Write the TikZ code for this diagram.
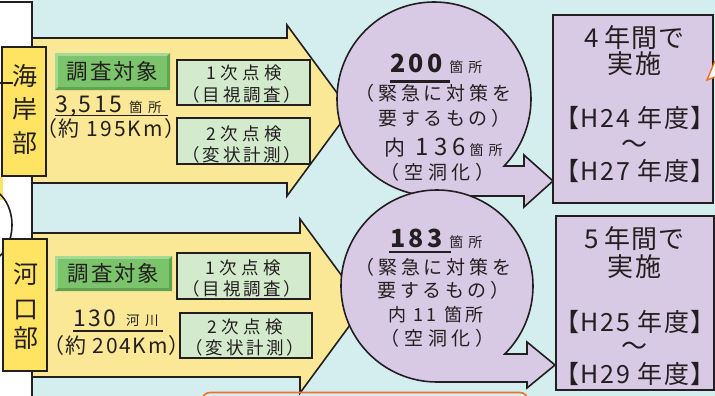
\documentclass[tikz,border=0pt]{standalone}
\usepackage{fontspec}
\setmainfont{Noto Sans CJK JP}
\definecolor{bgc}{RGB}{212,238,239}
\definecolor{ink}{RGB}{35,31,32}
\definecolor{yarrow}{RGB}{251,232,150}
\definecolor{ylab}{RGB}{255,228,100}
\definecolor{grn}{RGB}{124,196,108}
\definecolor{grnlt}{RGB}{165,218,150}
\definecolor{grndk}{RGB}{95,165,80}
\definecolor{lgreen}{RGB}{212,234,205}
\definecolor{lav}{RGB}{216,202,228}
\definecolor{orng}{RGB}{240,112,40}
\newcommand{\fz}[2]{\fontsize{#1}{#2}\selectfont}
\newcommand{\LS}[2]{{\addfontfeature{LetterSpace=#1}#2\hspace{-\dimexpr #1\fontdimen6\font/100\relax}}}
\newcommand{\PL}[1]{{\addfontfeature{RawFeature=+palt}#1}}
\begin{document}
\begin{tikzpicture}[x=1pt,y=-1pt,line join=miter,
  bd/.style={draw=ink,line width=1.6pt},
  txt/.style={inner sep=0pt,text=ink,anchor=base},
  lgbox/.style={bd,fill=lgreen,inner sep=0pt},
  ybox/.style={bd,fill=ylab,inner sep=0pt},
  rbox/.style={bd,fill=lav,inner sep=0pt},
  bubble/.style={bd,fill=lav},
  uline/.style={draw=ink,line width=1.5pt}]
\useasboundingbox (0,0) rectangle (715,396);
\fill[bgc] (0,0) rectangle (715,396);
% left white strip
\fill[white] (0,0) rectangle (32,396);
\fill[ylab] (0,177) rectangle (2.5,200);
\draw[bd] (-15,225) ellipse [x radius=27, y radius=37];
\draw[bd] (0,2) -- (32,2) -- (32,396);
% yellow arrows
\path[bd,fill=yarrow] (32,38) -- (287,38) -- (287,25) -- (350,110.5) -- (287,196) -- (287,183) -- (32,183) -- cycle;
\path[bd,fill=yarrow] (32,233) -- (300,233) -- (300,219) -- (364,306) -- (300,393) -- (300,377) -- (32,377) -- cycle;
% orange box at bottom
\draw[orng,line width=1.6pt,rounded corners=8pt] (202,430) -- (202,392.5) -- (528,392.5) -- (528,430);
% side labels
\node[ybox,minimum width=44pt,minimum height=129pt] (kaiganbox) at (24,111.5) {};
\node[txt,font=\fz{25}{25}] (kai1) at (25,85) {海};
\node[txt,font=\fz{25}{25}] (kai2) at (25,118) {岸};
\node[txt,font=\fz{25}{25}] (kai3) at (25,152) {部};
\coordinate (lk) at (0,83);
\coordinate (lk2) at (13,83);
\draw[bd] (lk) -- (lk2);
\node[ybox,minimum width=44pt,minimum height=132pt] (kakobox) at (25,305) {};
\node[txt,font=\fz{25}{25}] (kak1) at (26,283) {河};
\node[txt,font=\fz{25}{25}] (kak2) at (26,318) {口};
\node[txt,font=\fz{25}{25}] (kak3) at (26,347) {部};
% green labels
\fill[grnlt] (55,53) rectangle (170,90);
\fill[grndk] (170,53) -- (170,90) -- (55,90) -- (58,87) -- (167,87) -- (167,56) -- cycle;
\fill[grn] (58,56) rectangle (167,87);
\node[txt,font=\fz{21.5}{21.5}] (chosa1) at (112.5,80) {\LS{9}{調査対象}};
\fill[grnlt] (55,256) rectangle (172,291);
\fill[grndk] (172,256) -- (172,291) -- (55,291) -- (58,288) -- (169,288) -- (169,259) -- cycle;
\fill[grn] (58,259) rectangle (169,288);
\node[txt,font=\fz{21.5}{21.5}] (chosa2) at (113.5,281.5) {\LS{9}{調査対象}};
% counts
\node[txt,anchor=base west,font=\fz{23}{23}] (n3515) at (55,112) {\LS{10}{3,515}};
\node[txt,anchor=base west,font=\fz{13.5}{13.5}] (kasho1) at (129,112) {\LS{40}{箇所}};
\draw[uline] (55,115.5) -- (168,115.5);
\node[txt,font=\fz{21}{21}] (km1) at (111,136.5) {\PL{\LS{10}{（約 195Km）}}};
\node[txt,anchor=base west,font=\fz{23}{23}] (n130) at (73,326) {\LS{10}{130}};
\node[txt,anchor=base west,font=\fz{13.5}{13.5}] (kasen) at (126,325) {\LS{40}{河川}};
\draw[uline] (73,331) -- (163,331);
\node[txt,font=\fz{21}{21}] (km2) at (116.5,353) {\PL{\LS{8}{（約 204Km）}}};
% inspection boxes
\node[lgbox,minimum width=133pt,minimum height=45pt] (b1a) at (243.5,82.5) {};
\node[txt,font=\fz{17.5}{17.5}] (b1a1) at (244,80) {\LS{25}{1次点検}};
\node[txt,font=\fz{17.5}{17.5}] (b1a2) at (242,101) {\PL{\LS{17}{（目視調査）}}};
\node[lgbox,minimum width=133pt,minimum height=46pt] (b1b) at (243.5,141) {};
\node[txt,font=\fz{17.5}{17.5}] (b1b1) at (244,140) {\LS{25}{2次点検}};
\node[txt,font=\fz{17.5}{17.5}] (b1b2) at (242,161) {\PL{\LS{17}{（変状計測）}}};
\node[lgbox,minimum width=133pt,minimum height=46pt] (b2a) at (243.5,276) {};
\node[txt,font=\fz{17.5}{17.5}] (b2a1) at (243,274) {\LS{25}{1次点検}};
\node[txt,font=\fz{17.5}{17.5}] (b2a2) at (242,295.5) {\PL{\LS{17}{（目視調査）}}};
\node[lgbox,minimum width=132pt,minimum height=45pt] (b2b) at (246,335.5) {};
\node[txt,font=\fz{17.5}{17.5}] (b2b1) at (245,333) {\LS{25}{2次点検}};
\node[txt,font=\fz{17.5}{17.5}] (b2b2) at (245,354) {\PL{\LS{17}{（変状計測）}}};
% bubbles
\path[bubble] (434,196) arc[start angle=90, end angle=403.7, radius=97] -- (524,166) -- (524,155) -- (553,181) -- (524,207) -- (524,196) -- cycle;
\node[txt] (c1a) at (436.5,73) {{\fz{25}{25}\bfseries\LS{12}{200}}\hspace{10pt}{\fz{14}{14}\LS{35}{箇所}}};
\draw[ink,line width=2.6pt] (390,81.5) -- (450,81.5);
\node[txt,font=\fz{19}{19}] (c1b) at (433.5,100.5) {\LS{20}{（緊急に対策を}};
\node[txt,font=\fz{19}{19}] (c1c) at (444.5,125.5) {\LS{18}{要するもの）}};
\node[txt] (c1d) at (443.5,155) {{\fz{21}{21}内}\hspace{10pt}{\fz{24}{24}\LS{22}{136}}\hspace{9pt}{\fz{14}{14}\LS{35}{箇所}}};
\node[txt,font=\fz{19}{19}] (c1e) at (437.5,179) {\LS{24}{（空洞化）}};
\path[bubble] (437,382) arc[start angle=90, end angle=405.1, radius=96] -- (527,354) -- (527,342) -- (555,365) -- (527,388) -- (527,382) -- cycle;
\node[txt] (c2a) at (436.5,247) {{\fz{25}{25}\bfseries\LS{12}{183}}\hspace{10pt}{\fz{14}{14}\LS{35}{箇所}}};
\draw[ink,line width=2.6pt] (389,252) -- (451,252);
\node[txt,font=\fz{19}{19}] (c2b) at (433.5,274) {\LS{20}{（緊急に対策を}};
\node[txt,font=\fz{19}{19}] (c2c) at (443.5,297.5) {\LS{18}{要するもの）}};
\node[txt,font=\fz{18}{18}] (c2d) at (436,321.3) {\LS{18}{内 11 箇所}};
\node[txt,font=\fz{19}{19}] (c2e) at (437.5,345) {\LS{24}{（空洞化）}};
% right boxes
\node[rbox,minimum width=160pt,minimum height=188pt] (r1) at (633,109) {};
\node[txt,font=\fz{26}{26}] (r1a) at (634.5,48) {\LS{4}{4\hspace{6pt}年間で}};
\node[txt,font=\fz{26}{26}] (r1b) at (634.5,74) {\LS{6}{実施}};
\node[txt,font=\fz{25}{25}] (r1c) at (635,127) {\PL{\LS{7}{【H24 年度】}}};
\node[txt,font=\fz{26}{26}] (r1d) at (634,153) {～};
\node[txt,font=\fz{25}{25}] (r1e) at (635,180.5) {\PL{\LS{7}{【H27 年度】}}};
\node[rbox,minimum width=158pt,minimum height=174pt] (r2) at (635,303) {};
\node[txt,font=\fz{26}{26}] (r2a) at (634.5,248) {\LS{4}{5\hspace{6pt}年間で}};
\node[txt,font=\fz{26}{26}] (r2b) at (634.5,276.5) {\LS{6}{実施}};
\node[txt,font=\fz{25}{25}] (r2c) at (635,331) {\PL{\LS{7}{【H25 年度】}}};
\node[txt,font=\fz{26}{26}] (r2d) at (634,355) {～};
\node[txt,font=\fz{25}{25}] (r2e) at (635,383.5) {\PL{\LS{7}{【H29 年度】}}};
% orange mark top right
\path[fill=white] (715,61) -- (707,80) -- (715,77) -- cycle;
\draw[orng,line width=1.4pt] (715,61) -- (707,80) -- (715,77);
\end{tikzpicture}
\end{document}
